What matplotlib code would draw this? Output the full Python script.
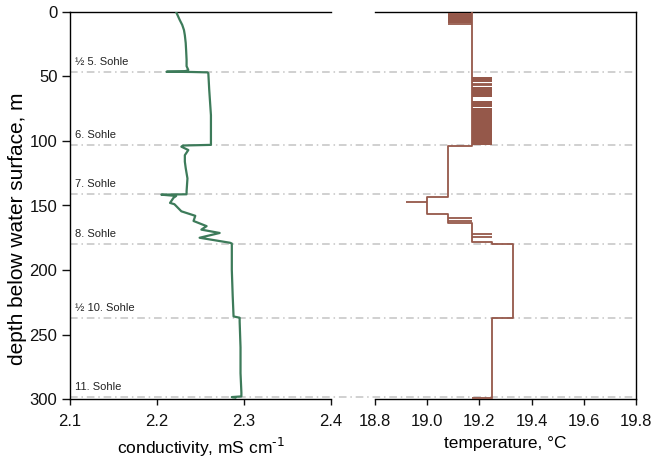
import numpy as np
import matplotlib
matplotlib.use("Agg")
import matplotlib.pyplot as plt
import matplotlib.transforms as mtransforms

plt.rcParams['font.family'] = ['Liberation Sans', 'DejaVu Sans']

# conductivity profile (mS/cm vs depth m)
cond_depth = [0, 3, 6, 10, 14, 18, 24, 30, 37, 42, 45, 46, 46.3, 46.5, 46.8, 47.5, 60, 80,
              100, 103, 103.5, 104.4, 107, 111, 116, 121, 129, 139, 141.3, 141.6, 142.6,
              144, 148, 149, 154.5, 158, 162, 166, 168.7, 171.3, 175, 178.9, 179.5, 200,
              220, 236, 237, 240, 260, 280, 295, 298, 298.5, 299]
cond = [2.222, 2.224, 2.226, 2.229, 2.231, 2.232, 2.233, 2.2335, 2.234, 2.234, 2.236, 2.232,
        2.211, 2.240, 2.258, 2.259, 2.260, 2.262, 2.262, 2.262, 2.230, 2.228, 2.236, 2.232,
        2.232, 2.233, 2.235, 2.234, 2.234, 2.205, 2.222, 2.219, 2.215, 2.220, 2.228, 2.244,
        2.242, 2.257, 2.251, 2.272, 2.249, 2.284, 2.286, 2.286, 2.287, 2.288, 2.295, 2.295,
        2.296, 2.296, 2.297, 2.297, 2.286, 2.290]

# temperature profile: step levels
temp_top = [0, 103.5, 143.2, 156.6, 163.6, 178.3, 180, 237]
temp_bot = [103.5, 143.2, 156.6, 163.6, 178.3, 180, 237, 299]
temp_val = [19.17, 19.08, 19.00, 19.08, 19.17, 19.25, 19.33, 19.25]

# short excursions of the temperature record
spike_depth = [9.5, 55.8, 56.8, 147.5, 159.5, 161.8, 172.3, 174.2, 299]
spike_from = [19.08, 19.17, 19.17, 18.92, 19.08, 19.08, 19.17, 19.17, 19.17]
spike_to = [19.17, 19.25, 19.25, 19.00, 19.17, 19.17, 19.25, 19.25, 19.25]

# depth ranges where temperature flips rapidly between two levels
band_top = [0.5, 50.6, 58.4, 69, 74.6]
band_bot = [8.3, 54.3, 65.6, 73.4, 103]
band_lo = [19.08, 19.17, 19.17, 19.17, 19.17]
band_hi = [19.17, 19.25, 19.25, 19.25, 19.25]

# mine levels
level_depth = [46.3, 103.2, 141.3, 180.1, 237.5, 298.2]
level_name = ["½ 5. Sohle", "6. Sohle", "7. Sohle", "8. Sohle", "½ 10. Sohle", "11. Sohle"]

green = "#3d7b5a"
brown = "#95584a"
grey = "#c4c4c4"

fig = plt.figure(figsize=(6.51, 4.61), dpi=100)
ax1 = fig.add_axes([70/651, 62/461, 261/651, 387/461])
ax2 = fig.add_axes([375/651, 62/461, 261/651, 387/461])
ax2.patch.set_visible(False)

ax1.plot(cond, cond_depth, color=green, lw=1.6, zorder=3)

tx, ty = [], []
for d0, d1, v in zip(temp_top, temp_bot, temp_val):
    tx += [v, v]
    ty += [d0, d1]
ax2.plot(tx, ty, color=brown, lw=1.3, zorder=3)
ax2.hlines(spike_depth, spike_from, spike_to, color=brown, lw=1.3, zorder=3)
for d0, d1, lo, hi in zip(band_top, band_bot, band_lo, band_hi):
    ax2.fill_betweenx([d0, d1], lo, hi, color=brown, lw=0, zorder=3)

ax1.set_xlim(2.1, 2.4)
ax2.set_xlim(18.8, 19.8)
for ax in (ax1, ax2):
    ax.set_ylim(300, 0)
    ax.tick_params(direction="out", width=1, labelsize=12, colors="#111111")
    ax.tick_params(axis="x", length=4, pad=7)
    for s in ax.spines.values():
        s.set_linewidth(1.0)
ax1.tick_params(axis="y", length=6, pad=3)
ax1.set_xticks([2.1, 2.2, 2.3, 2.4])
ax1.set_xticklabels(["2.1", "2.2", "2.3", "2.4"])
ax2.set_xticks(np.arange(18.8, 19.81, 0.2))
ax2.set_xticklabels(["18.8", "19.0", "19.2", "19.4", "19.6", "19.8"])
ax1.set_yticks(np.arange(0, 301, 50))
ax1.spines["right"].set_visible(False)
ax2.spines["left"].set_visible(False)
ax2.tick_params(axis="y", left=False, labelleft=False, right=False)

ax1.set_xlabel("conductivity, mS cm$^{\\text{-1}}$", fontsize=12.5, labelpad=5)
ax2.set_xlabel("temperature, °C", fontsize=12.5, labelpad=5)
ax1.set_ylabel("depth below water surface, m", fontsize=15)
ax1.yaxis.set_label_coords(-0.165, 0.44)

# dash-dot level lines running across both panels
trans = mtransforms.blended_transform_factory(fig.transFigure, ax1.transData)
x_start = ax1.get_position().x0
x_end = ax2.get_position().x1
for d, name in zip(level_depth, level_name):
    ax1.plot([x_start, x_end], [d, d], transform=trans, color=grey, lw=1.1,
             linestyle=(0, (5, 2.5, 1, 2.5)), clip_on=False, zorder=1)
    ax1.annotate(name, xy=(0.018, d), xycoords=("axes fraction", "data"),
                 xytext=(0, 7.3), textcoords="offset points", va="center",
                 fontsize=8, color="#222222")

fig.savefig("out.png", dpi=100)
